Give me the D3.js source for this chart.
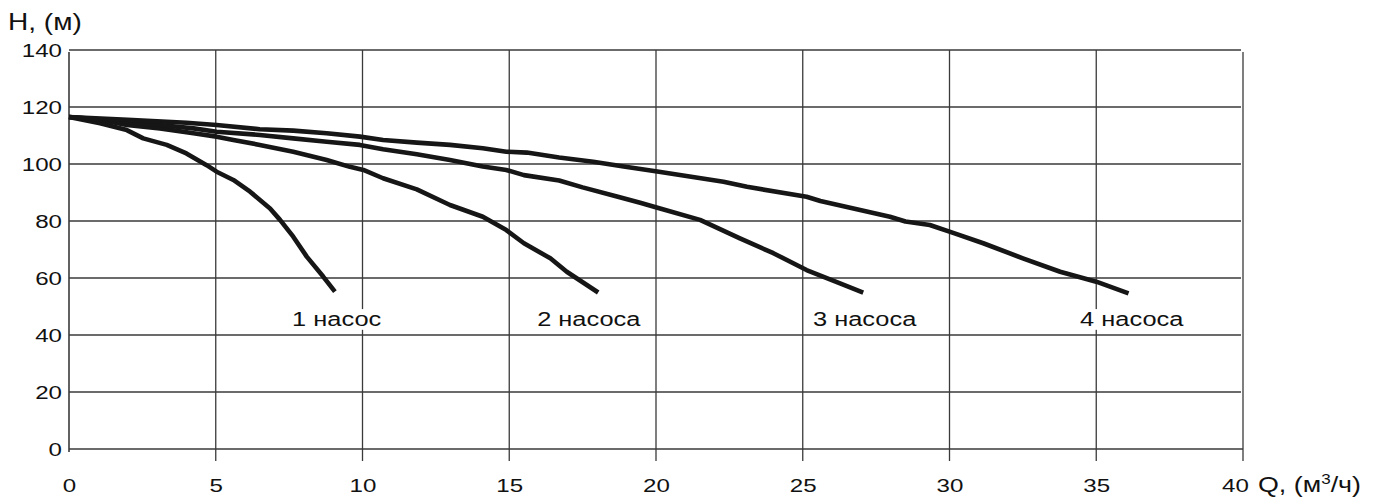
<!DOCTYPE html>
<html><head><meta charset="utf-8">
<script src="https://cdn.jsdelivr.net/npm/d3@7"></script>
<style>
html,body{margin:0;padding:0;background:#fff;}
svg{display:block;font-family:"Liberation Sans",Arial,Helvetica,sans-serif;}
</style></head>
<body>
<svg id="chart" width="1373" height="499"></svg>
<script>
// ---- data ----
const xTicks = [0, 5, 10, 15, 20, 25, 30, 35, 40];
const yTicks = [0, 20, 40, 60, 80, 100, 120, 140];
const seriesNames = ["1 насос", "2 насоса", "3 насоса", "4 насоса"];
const pump1Q = [0, 1.06, 1.97, 2.53, 3.33, 4.0, 4.69, 5.03, 5.6, 6.17, 6.85, 7.19, 7.64, 8.1, 8.66, 9.06];
const pump1H = [116.5, 114.3, 111.9, 109, 106.7, 103.7, 99.6, 97.3, 94.4, 90.3, 84.4, 80.4, 74.5, 67.5, 60.5, 55.2];
const pump2Q = [0, 1, 1.97, 3.1, 4.24, 5.03, 5.6, 6.5, 7.64, 8.78, 9.57, 10.03, 10.7, 11.85, 12.98, 14.1, 14.9, 15.5, 16.4, 16.96, 18.03];
const pump2H = [116.5, 115.6, 113.7, 112.5, 110.8, 109.6, 108.4, 106.7, 104.3, 101.4, 99.0, 97.9, 95.0, 91.1, 85.6, 81.5, 76.8, 72.2, 66.9, 62.2, 54.9];
const pump3Q = [0, 1.5, 3.1, 4.24, 5.03, 6.5, 7.64, 8.78, 9.91, 10.7, 11.85, 12.98, 14.1, 14.9, 15.5, 16.7, 17.5, 18.7, 19.46, 20.14, 21.5, 22.86, 24.0, 25.13, 26.27, 27.06];
const pump3H = [116.5, 115.3, 113.7, 112.5, 111.3, 110.2, 109, 107.8, 106.7, 105.2, 103.4, 101.4, 99.1, 97.9, 96.1, 94.2, 91.8, 88.5, 86.4, 84.4, 80.4, 73.9, 68.7, 62.8, 58.1, 54.9];
const pump4Q = [0, 2, 4, 5.03, 6.5, 7.64, 8.78, 9.91, 10.7, 11.85, 12.98, 14.1, 14.9, 15.6, 16.7, 17.86, 18.9, 20.1, 22.3, 23.1, 25.13, 25.6, 27.97, 28.5, 29.33, 30.1, 31.15, 32.5, 33.77, 35.0, 36.1];
const pump4H = [116.5, 115.5, 114.5, 113.7, 112.2, 111.7, 110.8, 109.6, 108.4, 107.5, 106.7, 105.5, 104.3, 104.0, 102.3, 100.8, 99.1, 97.3, 93.8, 92.0, 88.5, 87.0, 81.5, 79.8, 78.6, 75.9, 72.2, 66.9, 62.2, 58.7, 54.6];
const labelQ = [7.6, 15.95, 25.35, 34.45];
const labelH = [43, 43, 43, 43];
const yTitle = "H, (м)";
const xTitle = "Q, (м";
const xTitleSup = "3";
const xTitleEnd = "/ч)";

// ---- layout ----
const svg = d3.select("#chart");
const SX = 1.27; // horizontal stretch of text
const x = d3.scaleLinear().domain([0, 40]).range([69, 1243]);
const y = d3.scaleLinear().domain([0, 140]).range([449, 50]);
const gridColor = "#3a3a3a";

// horizontal gridlines
svg.append("g").selectAll("line").data(yTicks).join("line")
  .attr("x1", x(0)).attr("x2", d => d === 0 ? x(40) : x(40) - 2)
  .attr("y1", d => y(d)).attr("y2", d => y(d))
  .attr("stroke", gridColor).attr("stroke-width", 1.3);

// vertical gridlines
svg.append("g").selectAll("line").data(xTicks.filter(d => d > 0)).join("line")
  .attr("x1", d => x(d)).attr("x2", d => x(d))
  .attr("y1", d => d === 40 ? y(140) + 2 : y(140))
  .attr("y2", y(0) + 12)
  .attr("stroke", gridColor).attr("stroke-width", 1.3);
// left axis
svg.append("line").attr("x1", x(0)).attr("x2", x(0))
  .attr("y1", y(140) + 2).attr("y2", y(0) + 3)
  .attr("stroke", gridColor).attr("stroke-width", 1.6);

// axes labels (via d3 axes)
const yAxis = svg.append("g").attr("transform", `translate(${x(0)},0)`)
  .call(d3.axisLeft(y).tickValues(yTicks).tickSize(0).tickPadding(0));
yAxis.select(".domain").remove();
yAxis.selectAll("text").attr("x", 0).attr("dy", "0.36em")
  .attr("transform", `translate(-7,0) scale(${SX},1)`)
  .attr("font-size", 19).attr("fill", "#111")
  .style("font-family", "Liberation Sans, Arial, sans-serif");

const xAxis = svg.append("g").attr("transform", `translate(0,${y(0)})`)
  .call(d3.axisBottom(x).tickValues(xTicks).tickSize(0).tickPadding(0));
xAxis.select(".domain").remove();
xAxis.selectAll("text").attr("y", 0).attr("dy", 0)
  .attr("transform", d => `translate(${d === 40 ? -8 : 0},43) scale(${SX},1)`)
  .attr("font-size", 19).attr("fill", "#111")
  .style("font-family", "Liberation Sans, Arial, sans-serif");

// curves
const series = [
  pump1Q.map((q, i) => [q, pump1H[i]]),
  pump2Q.map((q, i) => [q, pump2H[i]]),
  pump3Q.map((q, i) => [q, pump3H[i]]),
  pump4Q.map((q, i) => [q, pump4H[i]])
];
const line = d3.line().x(d => x(d[0])).y(d => y(d[1]));
svg.append("g").selectAll("path").data(series).join("path")
  .attr("d", line).attr("fill", "none")
  .attr("stroke", "#161616").attr("stroke-width", 4.6)
  .attr("stroke-linejoin", "round").attr("stroke-linecap", "butt");

// curve labels with white background
seriesNames.forEach((name, i) => {
  const g = svg.append("g").attr("transform", `translate(${x(labelQ[i])},${y(labelH[i])}) scale(${SX},1)`);
  const t = g.append("text").text(name).attr("font-size", 20).attr("fill", "#111");
  const bb = t.node().getBBox();
  g.insert("rect", "text").attr("x", bb.x - 1).attr("y", bb.y + 1)
    .attr("width", bb.width + 2).attr("height", bb.height - 2).attr("fill", "#fff");
});

// axis titles
const yt = svg.append("text").attr("transform", `translate(8,30) scale(${SX - 0.05},1)`)
  .attr("font-size", 23).attr("fill", "#111").text(yTitle);

const xt = svg.append("text").attr("transform", `translate(1258,${y(0) + 43}) scale(${SX - 0.05},1)`)
  .attr("font-size", 22).attr("fill", "#111");
xt.append("tspan").text(xTitle);
xt.append("tspan").text(xTitleSup).attr("font-size", 14).attr("dy", -8);
xt.append("tspan").text(xTitleEnd).attr("dy", 8);
</script>
</body></html>
